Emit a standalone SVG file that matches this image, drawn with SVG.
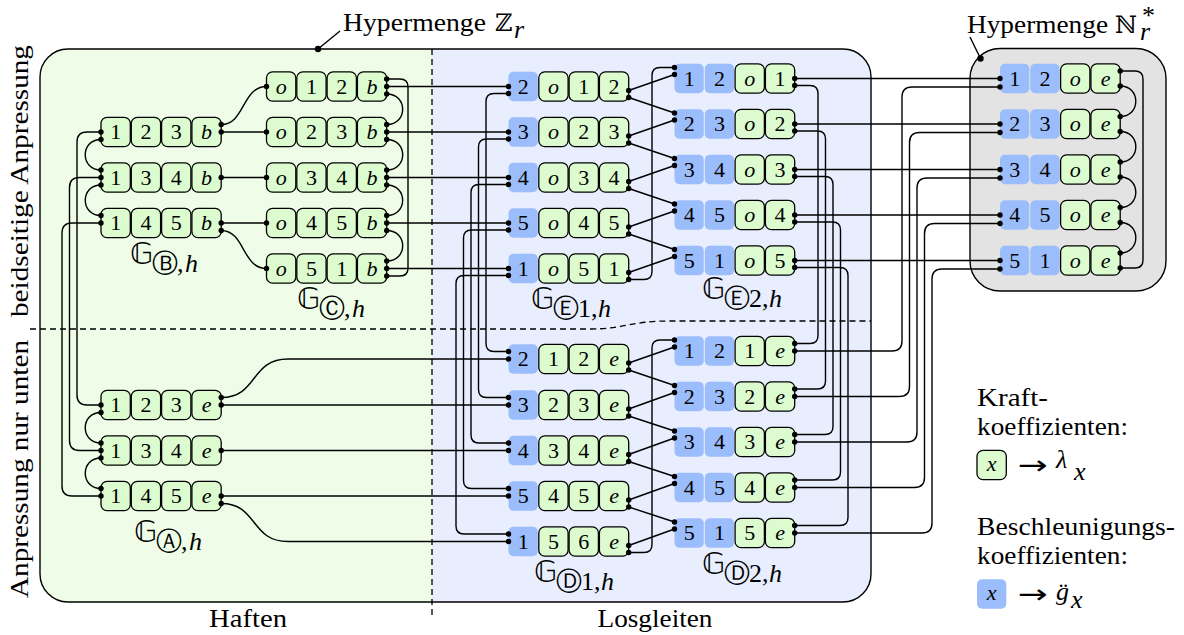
<svg xmlns="http://www.w3.org/2000/svg" xmlns:xlink="http://www.w3.org/1999/xlink" width="1184" height="635" viewBox="0 0 1184 635">
<style>
  .n text { font-family: "Liberation Serif", "DejaVu Serif", serif; font-size: 22px; text-anchor: middle; fill: #000; }
  .i { font-style: italic; }
  .lbl { font-family: "Liberation Serif", "DejaVu Serif", serif; font-size: 26px; fill: #000; }
  .bb { font-family: "DejaVu Serif", "DejaVu Sans", serif; font-size: 24px; }
  .gg { font-family: "DejaVu Sans", "DejaVu Serif", sans-serif; font-size: 30px; }
  .circ { font-family: "DejaVu Sans", sans-serif; font-size: 26px; text-anchor: middle; }
  .sub { font-family: "Liberation Serif", "DejaVu Serif", serif; font-size: 26px; }
  .w { fill: none; stroke: #000; stroke-width: 1.4; }
  .dash { fill: none; stroke: #000; stroke-width: 1.3; stroke-dasharray: 6 4; }
  .dots circle { fill: #000; }
</style>
<defs>
  <rect id="cg" x="0" y="-14.65" width="29.3" height="29.3" rx="6" fill="#dcfcd0" stroke="#000" stroke-width="1.3"/>
  <rect id="cb" x="0" y="-14.65" width="29.3" height="29.3" rx="5" fill="#9cbdfb"/>
  <clipPath id="zrClip"><rect x="40" y="49" width="831" height="553" rx="28"/></clipPath>
</defs>

<!-- hyperset Z_r: two halves -->
<g id="hyperset-z">
  <g clip-path="url(#zrClip)">
    <rect x="40" y="49" width="392" height="553" fill="#effde8"/>
    <rect x="432" y="49" width="439" height="553" fill="#e8eefd"/>
  </g>
  <rect x="40" y="49" width="831" height="553" rx="28" fill="none" stroke="#000" stroke-width="1.4"/>
</g>

<!-- hyperset N_r* -->
<g id="hyperset-n">
  <rect x="970" y="48.5" width="196" height="242.5" rx="30" fill="#e3e3e3" stroke="#000" stroke-width="1.4"/>
</g>

<!-- region separators -->
<path class="dash" d="M432 49 V615"/>
<path class="dash" d="M30 329 H590 C625 329 630 321 670 321 H871"/>

<!-- side and bottom captions -->
<text class="lbl" transform="translate(28,181) rotate(-90)" text-anchor="middle" textLength="272" lengthAdjust="spacingAndGlyphs">beidseitige Anpressung</text>
<text class="lbl" transform="translate(28,469) rotate(-90)" text-anchor="middle" textLength="258" lengthAdjust="spacingAndGlyphs">Anpressung nur unten</text>
<text class="lbl" x="248" y="627" text-anchor="middle" textLength="78" lengthAdjust="spacingAndGlyphs">Haften</text>
<text class="lbl" x="655" y="627" text-anchor="middle" textLength="115" lengthAdjust="spacingAndGlyphs">Losgleiten</text>

<!-- set labels with leaders -->
<g id="label-z">
  <path class="w" d="M318 49 L340 31"/>
  <text class="lbl" x="343" y="31" textLength="143" lengthAdjust="spacingAndGlyphs">Hypermenge</text>
  <text class="bb" x="495" y="31">ℤ</text>
  <text class="sub i" x="514" y="38" font-size="22">r</text>
</g>
<g id="label-n">
  <path class="w" d="M980.5 58.5 L970 37"/>
  <text class="lbl" x="967" y="33" textLength="141" lengthAdjust="spacingAndGlyphs">Hypermenge</text>
  <text class="bb" x="1115" y="33">ℕ</text>
  <text class="sub" font-size="21" x="1142" y="24">*<tspan class="i" x="1140" y="40">r</tspan></text>
</g>

<!-- hypergraph labels -->
<g id="labels">
  <text class="gg" x="130" y="264">𝔾</text><text class="circ" x="165" y="272">Ⓑ</text><text class="sub" x="177" y="272">,</text><text class="sub i" x="185" y="272">h</text>
  <text class="gg" x="297" y="309">𝔾</text><text class="circ" x="332" y="317">Ⓒ</text><text class="sub" x="344" y="317">,</text><text class="sub i" x="352" y="317">h</text>
  <text class="gg" x="531" y="309">𝔾</text><text class="circ" x="566" y="317">Ⓔ</text><text class="sub" x="578" y="317">1,</text><text class="sub i" x="598" y="317">h</text>
  <text class="gg" x="702" y="299">𝔾</text><text class="circ" x="737" y="307">Ⓔ</text><text class="sub" x="749" y="307">2,</text><text class="sub i" x="769" y="307">h</text>
  <text class="gg" x="134" y="542">𝔾</text><text class="circ" x="169" y="550">Ⓐ</text><text class="sub" x="181" y="550">,</text><text class="sub i" x="189" y="550">h</text>
  <text class="gg" x="534" y="582">𝔾</text><text class="circ" x="569" y="590">Ⓓ</text><text class="sub" x="581" y="590">1,</text><text class="sub i" x="601" y="590">h</text>
  <text class="gg" x="702" y="574">𝔾</text><text class="circ" x="737" y="582">Ⓓ</text><text class="sub" x="749" y="582">2,</text><text class="sub i" x="769" y="582">h</text>
</g>

<!-- nodes -->
<g class="n" id="nodes">
  <g id="gB">
    <g id="gB1" transform="translate(101,132)"><use href="#cg"/><use href="#cg" x="30.3"/><use href="#cg" x="60.6"/><use href="#cg" x="90.9"/><text x="14.65" y="7.3">1</text><text x="44.95" y="7.3">2</text><text x="75.25" y="7.3">3</text><text class="i" x="105.55" y="7.3">b</text></g>
    <g id="gB2" transform="translate(101,177.5)"><use href="#cg"/><use href="#cg" x="30.3"/><use href="#cg" x="60.6"/><use href="#cg" x="90.9"/><text x="14.65" y="7.3">1</text><text x="44.95" y="7.3">3</text><text x="75.25" y="7.3">4</text><text class="i" x="105.55" y="7.3">b</text></g>
    <g id="gB3" transform="translate(101,223)"><use href="#cg"/><use href="#cg" x="30.3"/><use href="#cg" x="60.6"/><use href="#cg" x="90.9"/><text x="14.65" y="7.3">1</text><text x="44.95" y="7.3">4</text><text x="75.25" y="7.3">5</text><text class="i" x="105.55" y="7.3">b</text></g>
  </g>
  <g id="gC">
    <g id="gC1" transform="translate(266.5,86.5)"><use href="#cg"/><use href="#cg" x="30.3"/><use href="#cg" x="60.6"/><use href="#cg" x="90.9"/><text class="i" x="14.65" y="7.3">o</text><text x="44.95" y="7.3">1</text><text x="75.25" y="7.3">2</text><text class="i" x="105.55" y="7.3">b</text></g>
    <g id="gC2" transform="translate(266.5,132)"><use href="#cg"/><use href="#cg" x="30.3"/><use href="#cg" x="60.6"/><use href="#cg" x="90.9"/><text class="i" x="14.65" y="7.3">o</text><text x="44.95" y="7.3">2</text><text x="75.25" y="7.3">3</text><text class="i" x="105.55" y="7.3">b</text></g>
    <g id="gC3" transform="translate(266.5,177.5)"><use href="#cg"/><use href="#cg" x="30.3"/><use href="#cg" x="60.6"/><use href="#cg" x="90.9"/><text class="i" x="14.65" y="7.3">o</text><text x="44.95" y="7.3">3</text><text x="75.25" y="7.3">4</text><text class="i" x="105.55" y="7.3">b</text></g>
    <g id="gC4" transform="translate(266.5,223)"><use href="#cg"/><use href="#cg" x="30.3"/><use href="#cg" x="60.6"/><use href="#cg" x="90.9"/><text class="i" x="14.65" y="7.3">o</text><text x="44.95" y="7.3">4</text><text x="75.25" y="7.3">5</text><text class="i" x="105.55" y="7.3">b</text></g>
    <g id="gC5" transform="translate(266.5,268.5)"><use href="#cg"/><use href="#cg" x="30.3"/><use href="#cg" x="60.6"/><use href="#cg" x="90.9"/><text class="i" x="14.65" y="7.3">o</text><text x="44.95" y="7.3">5</text><text x="75.25" y="7.3">1</text><text class="i" x="105.55" y="7.3">b</text></g>
  </g>
  <g id="gE1">
    <g id="gE1a" transform="translate(508.5,86.5)"><use href="#cb"/><use href="#cg" x="30.3"/><use href="#cg" x="60.6"/><use href="#cg" x="90.9"/><text x="14.65" y="7.3">2</text><text class="i" x="44.95" y="7.3">o</text><text x="75.25" y="7.3">1</text><text x="105.55" y="7.3">2</text></g>
    <g id="gE1b" transform="translate(508.5,132)"><use href="#cb"/><use href="#cg" x="30.3"/><use href="#cg" x="60.6"/><use href="#cg" x="90.9"/><text x="14.65" y="7.3">3</text><text class="i" x="44.95" y="7.3">o</text><text x="75.25" y="7.3">2</text><text x="105.55" y="7.3">3</text></g>
    <g id="gE1c" transform="translate(508.5,177.5)"><use href="#cb"/><use href="#cg" x="30.3"/><use href="#cg" x="60.6"/><use href="#cg" x="90.9"/><text x="14.65" y="7.3">4</text><text class="i" x="44.95" y="7.3">o</text><text x="75.25" y="7.3">3</text><text x="105.55" y="7.3">4</text></g>
    <g id="gE1d" transform="translate(508.5,223)"><use href="#cb"/><use href="#cg" x="30.3"/><use href="#cg" x="60.6"/><use href="#cg" x="90.9"/><text x="14.65" y="7.3">5</text><text class="i" x="44.95" y="7.3">o</text><text x="75.25" y="7.3">4</text><text x="105.55" y="7.3">5</text></g>
    <g id="gE1e" transform="translate(508.5,268.5)"><use href="#cb"/><use href="#cg" x="30.3"/><use href="#cg" x="60.6"/><use href="#cg" x="90.9"/><text x="14.65" y="7.3">1</text><text class="i" x="44.95" y="7.3">o</text><text x="75.25" y="7.3">5</text><text x="105.55" y="7.3">1</text></g>
  </g>
  <g id="gE2">
    <g id="gE2a" transform="translate(674.5,78.5)"><use href="#cb"/><use href="#cb" x="30.3"/><use href="#cg" x="60.6"/><use href="#cg" x="90.9"/><text x="14.65" y="7.3">1</text><text x="44.95" y="7.3">2</text><text class="i" x="75.25" y="7.3">o</text><text x="105.55" y="7.3">1</text></g>
    <g id="gE2b" transform="translate(674.5,124)"><use href="#cb"/><use href="#cb" x="30.3"/><use href="#cg" x="60.6"/><use href="#cg" x="90.9"/><text x="14.65" y="7.3">2</text><text x="44.95" y="7.3">3</text><text class="i" x="75.25" y="7.3">o</text><text x="105.55" y="7.3">2</text></g>
    <g id="gE2c" transform="translate(674.5,169.5)"><use href="#cb"/><use href="#cb" x="30.3"/><use href="#cg" x="60.6"/><use href="#cg" x="90.9"/><text x="14.65" y="7.3">3</text><text x="44.95" y="7.3">4</text><text class="i" x="75.25" y="7.3">o</text><text x="105.55" y="7.3">3</text></g>
    <g id="gE2d" transform="translate(674.5,215)"><use href="#cb"/><use href="#cb" x="30.3"/><use href="#cg" x="60.6"/><use href="#cg" x="90.9"/><text x="14.65" y="7.3">4</text><text x="44.95" y="7.3">5</text><text class="i" x="75.25" y="7.3">o</text><text x="105.55" y="7.3">4</text></g>
    <g id="gE2e" transform="translate(674.5,260.5)"><use href="#cb"/><use href="#cb" x="30.3"/><use href="#cg" x="60.6"/><use href="#cg" x="90.9"/><text x="14.65" y="7.3">5</text><text x="44.95" y="7.3">1</text><text class="i" x="75.25" y="7.3">o</text><text x="105.55" y="7.3">5</text></g>
  </g>
  <g id="gN">
    <g id="nA" transform="translate(1000,78.5)"><use href="#cb"/><use href="#cb" x="30.3"/><use href="#cg" x="60.6"/><use href="#cg" x="90.9"/><text x="14.65" y="7.3">1</text><text x="44.95" y="7.3">2</text><text class="i" x="75.25" y="7.3">o</text><text class="i" x="105.55" y="7.3">e</text></g>
    <g id="nB" transform="translate(1000,124)"><use href="#cb"/><use href="#cb" x="30.3"/><use href="#cg" x="60.6"/><use href="#cg" x="90.9"/><text x="14.65" y="7.3">2</text><text x="44.95" y="7.3">3</text><text class="i" x="75.25" y="7.3">o</text><text class="i" x="105.55" y="7.3">e</text></g>
    <g id="nC" transform="translate(1000,169.5)"><use href="#cb"/><use href="#cb" x="30.3"/><use href="#cg" x="60.6"/><use href="#cg" x="90.9"/><text x="14.65" y="7.3">3</text><text x="44.95" y="7.3">4</text><text class="i" x="75.25" y="7.3">o</text><text class="i" x="105.55" y="7.3">e</text></g>
    <g id="nD" transform="translate(1000,215)"><use href="#cb"/><use href="#cb" x="30.3"/><use href="#cg" x="60.6"/><use href="#cg" x="90.9"/><text x="14.65" y="7.3">4</text><text x="44.95" y="7.3">5</text><text class="i" x="75.25" y="7.3">o</text><text class="i" x="105.55" y="7.3">e</text></g>
    <g id="nE" transform="translate(1000,260.5)"><use href="#cb"/><use href="#cb" x="30.3"/><use href="#cg" x="60.6"/><use href="#cg" x="90.9"/><text x="14.65" y="7.3">5</text><text x="44.95" y="7.3">1</text><text class="i" x="75.25" y="7.3">o</text><text class="i" x="105.55" y="7.3">e</text></g>
  </g>
  <g id="gA">
    <g id="gA1" transform="translate(101,405)"><use href="#cg"/><use href="#cg" x="30.3"/><use href="#cg" x="60.6"/><use href="#cg" x="90.9"/><text x="14.65" y="7.3">1</text><text x="44.95" y="7.3">2</text><text x="75.25" y="7.3">3</text><text class="i" x="105.55" y="7.3">e</text></g>
    <g id="gA2" transform="translate(101,450.5)"><use href="#cg"/><use href="#cg" x="30.3"/><use href="#cg" x="60.6"/><use href="#cg" x="90.9"/><text x="14.65" y="7.3">1</text><text x="44.95" y="7.3">3</text><text x="75.25" y="7.3">4</text><text class="i" x="105.55" y="7.3">e</text></g>
    <g id="gA3" transform="translate(101,496)"><use href="#cg"/><use href="#cg" x="30.3"/><use href="#cg" x="60.6"/><use href="#cg" x="90.9"/><text x="14.65" y="7.3">1</text><text x="44.95" y="7.3">4</text><text x="75.25" y="7.3">5</text><text class="i" x="105.55" y="7.3">e</text></g>
  </g>
  <g id="gD1">
    <g id="gD1a" transform="translate(508.5,359)"><use href="#cb"/><use href="#cg" x="30.3"/><use href="#cg" x="60.6"/><use href="#cg" x="90.9"/><text x="14.65" y="7.3">2</text><text x="44.95" y="7.3">1</text><text x="75.25" y="7.3">2</text><text class="i" x="105.55" y="7.3">e</text></g>
    <g id="gD1b" transform="translate(508.5,405)"><use href="#cb"/><use href="#cg" x="30.3"/><use href="#cg" x="60.6"/><use href="#cg" x="90.9"/><text x="14.65" y="7.3">3</text><text x="44.95" y="7.3">2</text><text x="75.25" y="7.3">3</text><text class="i" x="105.55" y="7.3">e</text></g>
    <g id="gD1c" transform="translate(508.5,450.5)"><use href="#cb"/><use href="#cg" x="30.3"/><use href="#cg" x="60.6"/><use href="#cg" x="90.9"/><text x="14.65" y="7.3">4</text><text x="44.95" y="7.3">3</text><text x="75.25" y="7.3">4</text><text class="i" x="105.55" y="7.3">e</text></g>
    <g id="gD1d" transform="translate(508.5,496)"><use href="#cb"/><use href="#cg" x="30.3"/><use href="#cg" x="60.6"/><use href="#cg" x="90.9"/><text x="14.65" y="7.3">5</text><text x="44.95" y="7.3">4</text><text x="75.25" y="7.3">5</text><text class="i" x="105.55" y="7.3">e</text></g>
    <g id="gD1e" transform="translate(508.5,541.5)"><use href="#cb"/><use href="#cg" x="30.3"/><use href="#cg" x="60.6"/><use href="#cg" x="90.9"/><text x="14.65" y="7.3">1</text><text x="44.95" y="7.3">5</text><text x="75.25" y="7.3">6</text><text class="i" x="105.55" y="7.3">e</text></g>
  </g>
  <g id="gD2">
    <g id="gD2a" transform="translate(674.5,351)"><use href="#cb"/><use href="#cb" x="30.3"/><use href="#cg" x="60.6"/><use href="#cg" x="90.9"/><text x="14.65" y="7.3">1</text><text x="44.95" y="7.3">2</text><text x="75.25" y="7.3">1</text><text class="i" x="105.55" y="7.3">e</text></g>
    <g id="gD2b" transform="translate(674.5,396.5)"><use href="#cb"/><use href="#cb" x="30.3"/><use href="#cg" x="60.6"/><use href="#cg" x="90.9"/><text x="14.65" y="7.3">2</text><text x="44.95" y="7.3">3</text><text x="75.25" y="7.3">2</text><text class="i" x="105.55" y="7.3">e</text></g>
    <g id="gD2c" transform="translate(674.5,442)"><use href="#cb"/><use href="#cb" x="30.3"/><use href="#cg" x="60.6"/><use href="#cg" x="90.9"/><text x="14.65" y="7.3">3</text><text x="44.95" y="7.3">4</text><text x="75.25" y="7.3">3</text><text class="i" x="105.55" y="7.3">e</text></g>
    <g id="gD2d" transform="translate(674.5,487.5)"><use href="#cb"/><use href="#cb" x="30.3"/><use href="#cg" x="60.6"/><use href="#cg" x="90.9"/><text x="14.65" y="7.3">4</text><text x="44.95" y="7.3">5</text><text x="75.25" y="7.3">4</text><text class="i" x="105.55" y="7.3">e</text></g>
    <g id="gD2e" transform="translate(674.5,533)"><use href="#cb"/><use href="#cb" x="30.3"/><use href="#cg" x="60.6"/><use href="#cg" x="90.9"/><text x="14.65" y="7.3">5</text><text x="44.95" y="7.3">1</text><text x="75.25" y="7.3">5</text><text class="i" x="105.55" y="7.3">e</text></g>
  </g>
</g>

<!-- connectors -->
<g id="connectors">
  <g class="w">
    <!-- B to A, left side -->
    <path d="M101 132 H87 Q77 132 77 142 V395 Q77 405 87 405 H101"/>
    <path d="M101 177.5 H79.5 Q69.5 177.5 69.5 187.5 V440.5 Q69.5 450.5 79.5 450.5 H101"/>
    <path d="M101 223 H72 Q62 223 62 233 V486 Q62 496 72 496 H101"/>
    <path d="M101 139.5 C80 139.5 80 170 101 170"/>
    <path d="M101 185 C80 185 80 215.5 101 215.5"/>
    <path d="M101 412.5 C80 412.5 80 443 101 443"/>
    <path d="M101 458 C80 458 80 488.5 101 488.5"/>
    <!-- B to C -->
    <path d="M221.2 124.5 C245 124.5 242 86.5 266.5 86.5"/>
    <path d="M221.2 132 H266.5"/>
    <path d="M221.2 177.5 H266.5"/>
    <path d="M221.2 223 H266.5"/>
    <path d="M221.2 230.5 C245 230.5 242 268.5 266.5 268.5"/>
    <!-- C chain and loop -->
    <path d="M386.7 94 C408 94 408 124.5 386.7 124.5"/>
    <path d="M386.7 139.5 C408 139.5 408 170 386.7 170"/>
    <path d="M386.7 185 C408 185 408 215.5 386.7 215.5"/>
    <path d="M386.7 230.5 C408 230.5 408 261 386.7 261"/>
    <path d="M386.7 79 H400 Q408 79 408 87 V268 Q408 276 400 276 H386.7"/>
    <!-- C to E1 -->
    <path d="M386.7 86.5 H508.5"/>
    <path d="M386.7 132 H508.5"/>
    <path d="M386.7 177.5 H508.5"/>
    <path d="M386.7 223 H508.5"/>
    <path d="M386.7 268.5 H508.5"/>
    <!-- E1 to D1, left side -->
    <path d="M508.5 93.5 H494 Q486 93.5 486 101.5 V343.5 Q486 351.5 494 351.5 H508.5"/>
    <path d="M508.5 139 H486.5 Q478.5 139 478.5 147 V389.5 Q478.5 397.5 486.5 397.5 H508.5"/>
    <path d="M508.5 184.5 H479 Q471 184.5 471 192.5 V435 Q471 443 479 443 H508.5"/>
    <path d="M508.5 230 H471.5 Q463.5 230 463.5 238 V480.5 Q463.5 488.5 471.5 488.5 H508.5"/>
    <path d="M508.5 275.5 H464 Q456 275.5 456 283.5 V526 Q456 534 464 534 H508.5"/>
    <!-- A to D1 -->
    <path d="M221.2 397.5 C258 397.5 250 359 288 359 H508.5"/>
    <path d="M221.2 405 H508.5"/>
    <path d="M221.2 450.5 H508.5"/>
    <path d="M221.2 496 H508.5"/>
    <path d="M221.2 503.5 C258 503.5 250 541.5 288 541.5 H508.5"/>
    <!-- E1 to E2 -->
    <path d="M628.7 90.5 L674.5 74.5 M628.7 136 L674.5 120 M628.7 181.5 L674.5 165.5 M628.7 227 L674.5 211 M628.7 272.5 L674.5 256.5"/>
    <path d="M628.7 97.5 L674.5 113 M628.7 143 L674.5 158.5 M628.7 188.5 L674.5 204 M628.7 234 L674.5 249.5"/>
    <path d="M628.7 279.5 H644 Q652 279.5 652 271.5 V75.5 Q652 67.5 660 67.5 H674.5"/>
    <!-- D1 to D2 -->
    <path d="M628.7 363 L674.5 347 M628.7 409 L674.5 392.5 M628.7 454.5 L674.5 438 M628.7 500 L674.5 483.5 M628.7 545.5 L674.5 529"/>
    <path d="M628.7 370 L674.5 385.5 M628.7 416 L674.5 431 M628.7 461.5 L674.5 476.5 M628.7 507 L674.5 522"/>
    <path d="M628.7 552.5 H644 Q652 552.5 652 544.5 V348 Q652 340 660 340 H674.5"/>
    <!-- E2 to N -->
    <path d="M794.7 78.5 H1000 M794.7 124 H1000 M794.7 169.5 H1000 M794.7 215 H1000 M794.7 260.5 H1000"/>
    <!-- E2 to D2, right side -->
    <path d="M794.7 85.5 H810 Q818 85.5 818 93.5 V335.5 Q818 343.5 810 343.5 H794.7"/>
    <path d="M794.7 131 H817.5 Q825.5 131 825.5 139 V381 Q825.5 389 817.5 389 H794.7"/>
    <path d="M794.7 176.5 H825 Q833 176.5 833 184.5 V426.5 Q833 434.5 825 434.5 H794.7"/>
    <path d="M794.7 222 H832.5 Q840.5 222 840.5 230 V472 Q840.5 480 832.5 480 H794.7"/>
    <path d="M794.7 267.5 H840 Q848 267.5 848 275.5 V517.5 Q848 525.5 840 525.5 H794.7"/>
    <!-- D2 to N -->
    <path d="M794.7 351 H892 Q902 351 902 341 V97 Q902 87 912 87 H1000"/>
    <path d="M794.7 396.5 H899.5 Q909.5 396.5 909.5 386.5 V142.5 Q909.5 132.5 919.5 132.5 H1000"/>
    <path d="M794.7 442 H907 Q917 442 917 432 V188 Q917 178 927 178 H1000"/>
    <path d="M794.7 487.5 H914.5 Q924.5 487.5 924.5 477.5 V233.5 Q924.5 223.5 934.5 223.5 H1000"/>
    <path d="M794.7 533 H922 Q932 533 932 523 V279 Q932 269 942 269 H1000"/>
    <!-- N chain and loop -->
    <path d="M1120.2 86 C1141 86 1141 116.5 1120.2 116.5"/>
    <path d="M1120.2 131.5 C1141 131.5 1141 162 1120.2 162"/>
    <path d="M1120.2 177 C1141 177 1141 207.5 1120.2 207.5"/>
    <path d="M1120.2 222.5 C1141 222.5 1141 253 1120.2 253"/>
    <path d="M1120.2 71 H1135 Q1143 71 1143 79 V260 Q1143 268 1135 268 H1120.2"/>
  </g>
  <g class="dots">
    <circle cx="318" cy="49" r="3.2"/><circle cx="980.5" cy="58.5" r="3.2"/>
    <!-- B left / A left -->
    <circle cx="101" cy="132" r="2.7"/><circle cx="101" cy="139.5" r="2.7"/><circle cx="101" cy="170" r="2.7"/><circle cx="101" cy="177.5" r="2.7"/><circle cx="101" cy="185" r="2.7"/><circle cx="101" cy="215.5" r="2.7"/><circle cx="101" cy="223" r="2.7"/>
    <circle cx="101" cy="405" r="2.7"/><circle cx="101" cy="412.5" r="2.7"/><circle cx="101" cy="443" r="2.7"/><circle cx="101" cy="450.5" r="2.7"/><circle cx="101" cy="458" r="2.7"/><circle cx="101" cy="488.5" r="2.7"/><circle cx="101" cy="496" r="2.7"/>
    <!-- B right / A right -->
    <circle cx="221.2" cy="124.5" r="2.7"/><circle cx="221.2" cy="132" r="2.7"/><circle cx="221.2" cy="177.5" r="2.7"/><circle cx="221.2" cy="223" r="2.7"/><circle cx="221.2" cy="230.5" r="2.7"/>
    <circle cx="221.2" cy="397.5" r="2.7"/><circle cx="221.2" cy="405" r="2.7"/><circle cx="221.2" cy="450.5" r="2.7"/><circle cx="221.2" cy="496" r="2.7"/><circle cx="221.2" cy="503.5" r="2.7"/>
    <!-- C left -->
    <circle cx="266.5" cy="86.5" r="2.7"/><circle cx="266.5" cy="132" r="2.7"/><circle cx="266.5" cy="177.5" r="2.7"/><circle cx="266.5" cy="223" r="2.7"/><circle cx="266.5" cy="268.5" r="2.7"/>
    <!-- C right -->
    <circle cx="386.7" cy="79" r="2.7"/><circle cx="386.7" cy="86.5" r="2.7"/><circle cx="386.7" cy="94" r="2.7"/><circle cx="386.7" cy="124.5" r="2.7"/><circle cx="386.7" cy="132" r="2.7"/><circle cx="386.7" cy="139.5" r="2.7"/><circle cx="386.7" cy="170" r="2.7"/><circle cx="386.7" cy="177.5" r="2.7"/><circle cx="386.7" cy="185" r="2.7"/><circle cx="386.7" cy="215.5" r="2.7"/><circle cx="386.7" cy="223" r="2.7"/><circle cx="386.7" cy="230.5" r="2.7"/><circle cx="386.7" cy="261" r="2.7"/><circle cx="386.7" cy="268.5" r="2.7"/><circle cx="386.7" cy="276" r="2.7"/>
    <!-- E1 left / D1 left -->
    <circle cx="508.5" cy="86.5" r="2.7"/><circle cx="508.5" cy="93.5" r="2.7"/><circle cx="508.5" cy="132" r="2.7"/><circle cx="508.5" cy="139" r="2.7"/><circle cx="508.5" cy="177.5" r="2.7"/><circle cx="508.5" cy="184.5" r="2.7"/><circle cx="508.5" cy="223" r="2.7"/><circle cx="508.5" cy="230" r="2.7"/><circle cx="508.5" cy="268.5" r="2.7"/><circle cx="508.5" cy="275.5" r="2.7"/>
    <circle cx="508.5" cy="351.5" r="2.7"/><circle cx="508.5" cy="359" r="2.7"/><circle cx="508.5" cy="397.5" r="2.7"/><circle cx="508.5" cy="405" r="2.7"/><circle cx="508.5" cy="443" r="2.7"/><circle cx="508.5" cy="450.5" r="2.7"/><circle cx="508.5" cy="488.5" r="2.7"/><circle cx="508.5" cy="496" r="2.7"/><circle cx="508.5" cy="534" r="2.7"/><circle cx="508.5" cy="541.5" r="2.7"/>
    <!-- E1 right / D1 right -->
    <circle cx="628.7" cy="90.5" r="2.7"/><circle cx="628.7" cy="97.5" r="2.7"/><circle cx="628.7" cy="136" r="2.7"/><circle cx="628.7" cy="143" r="2.7"/><circle cx="628.7" cy="181.5" r="2.7"/><circle cx="628.7" cy="188.5" r="2.7"/><circle cx="628.7" cy="227" r="2.7"/><circle cx="628.7" cy="234" r="2.7"/><circle cx="628.7" cy="272.5" r="2.7"/><circle cx="628.7" cy="279.5" r="2.7"/>
    <circle cx="628.7" cy="363" r="2.7"/><circle cx="628.7" cy="370" r="2.7"/><circle cx="628.7" cy="409" r="2.7"/><circle cx="628.7" cy="416" r="2.7"/><circle cx="628.7" cy="454.5" r="2.7"/><circle cx="628.7" cy="461.5" r="2.7"/><circle cx="628.7" cy="500" r="2.7"/><circle cx="628.7" cy="507" r="2.7"/><circle cx="628.7" cy="545.5" r="2.7"/><circle cx="628.7" cy="552.5" r="2.7"/>
    <!-- E2 left / D2 left -->
    <circle cx="674.5" cy="67.5" r="2.7"/><circle cx="674.5" cy="74.5" r="2.7"/><circle cx="674.5" cy="113" r="2.7"/><circle cx="674.5" cy="120" r="2.7"/><circle cx="674.5" cy="158.5" r="2.7"/><circle cx="674.5" cy="165.5" r="2.7"/><circle cx="674.5" cy="204" r="2.7"/><circle cx="674.5" cy="211" r="2.7"/><circle cx="674.5" cy="249.5" r="2.7"/><circle cx="674.5" cy="256.5" r="2.7"/>
    <circle cx="674.5" cy="340" r="2.7"/><circle cx="674.5" cy="347" r="2.7"/><circle cx="674.5" cy="385.5" r="2.7"/><circle cx="674.5" cy="392.5" r="2.7"/><circle cx="674.5" cy="431" r="2.7"/><circle cx="674.5" cy="438" r="2.7"/><circle cx="674.5" cy="476.5" r="2.7"/><circle cx="674.5" cy="483.5" r="2.7"/><circle cx="674.5" cy="522" r="2.7"/><circle cx="674.5" cy="529" r="2.7"/>
    <!-- E2 right / D2 right -->
    <circle cx="794.7" cy="78.5" r="2.7"/><circle cx="794.7" cy="85.5" r="2.7"/><circle cx="794.7" cy="124" r="2.7"/><circle cx="794.7" cy="131" r="2.7"/><circle cx="794.7" cy="169.5" r="2.7"/><circle cx="794.7" cy="176.5" r="2.7"/><circle cx="794.7" cy="215" r="2.7"/><circle cx="794.7" cy="222" r="2.7"/><circle cx="794.7" cy="260.5" r="2.7"/><circle cx="794.7" cy="267.5" r="2.7"/>
    <circle cx="794.7" cy="343.5" r="2.7"/><circle cx="794.7" cy="351" r="2.7"/><circle cx="794.7" cy="389" r="2.7"/><circle cx="794.7" cy="396.5" r="2.7"/><circle cx="794.7" cy="434.5" r="2.7"/><circle cx="794.7" cy="442" r="2.7"/><circle cx="794.7" cy="480" r="2.7"/><circle cx="794.7" cy="487.5" r="2.7"/><circle cx="794.7" cy="525.5" r="2.7"/><circle cx="794.7" cy="533" r="2.7"/>
    <!-- N left / right -->
    <circle cx="1000" cy="78.5" r="2.7"/><circle cx="1000" cy="87" r="2.7"/><circle cx="1000" cy="124" r="2.7"/><circle cx="1000" cy="132.5" r="2.7"/><circle cx="1000" cy="169.5" r="2.7"/><circle cx="1000" cy="178" r="2.7"/><circle cx="1000" cy="215" r="2.7"/><circle cx="1000" cy="223.5" r="2.7"/><circle cx="1000" cy="260.5" r="2.7"/><circle cx="1000" cy="269" r="2.7"/>
    <circle cx="1120.2" cy="71" r="2.7"/><circle cx="1120.2" cy="86" r="2.7"/><circle cx="1120.2" cy="116.5" r="2.7"/><circle cx="1120.2" cy="131.5" r="2.7"/><circle cx="1120.2" cy="162" r="2.7"/><circle cx="1120.2" cy="177" r="2.7"/><circle cx="1120.2" cy="207.5" r="2.7"/><circle cx="1120.2" cy="222.5" r="2.7"/><circle cx="1120.2" cy="253" r="2.7"/><circle cx="1120.2" cy="268" r="2.7"/>
  </g>
</g>

<!-- legend -->
<g id="legend">
  <text class="lbl" x="977" y="406" textLength="71" lengthAdjust="spacingAndGlyphs">Kraft-</text>
  <text class="lbl" x="977" y="435" textLength="151" lengthAdjust="spacingAndGlyphs">koeffizienten:</text>
  <g id="legend-force" class="n" transform="translate(977,465)"><use href="#cg"/><text class="i" x="14.65" y="6">x</text></g>
  <text x="1033" y="474" text-anchor="middle" font-family="DejaVu Sans" font-size="26" textLength="30" lengthAdjust="spacingAndGlyphs">→</text>
  <text class="lbl i" x="1056" y="468" font-size="28">λ</text>
  <text class="sub i" x="1074" y="480" font-size="21">x</text>
  <text class="lbl" x="977" y="535" textLength="198" lengthAdjust="spacingAndGlyphs">Beschleunigungs-</text>
  <text class="lbl" x="977" y="563.5" textLength="151" lengthAdjust="spacingAndGlyphs">koeffizienten:</text>
  <g id="legend-accel" class="n" transform="translate(977,594)"><use href="#cb"/><text class="i" x="14.65" y="6">x</text></g>
  <text x="1033" y="603" text-anchor="middle" font-family="DejaVu Sans" font-size="26" textLength="30" lengthAdjust="spacingAndGlyphs">→</text>
  <text class="lbl i" x="1056" y="600" font-size="28">g̈</text>
  <text class="sub i" x="1071" y="608" font-size="21">x</text>
</g>
</svg>
